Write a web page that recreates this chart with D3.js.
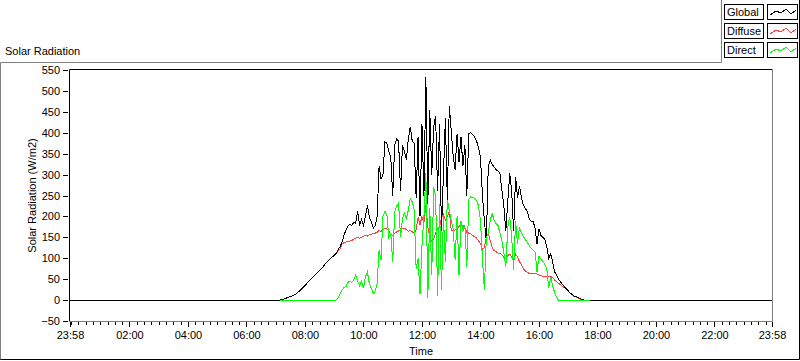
<!DOCTYPE html>
<html><head><meta charset="utf-8">
<script src="https://cdn.jsdelivr.net/npm/d3@7"></script>
<style>
html,body{margin:0;padding:0;background:#fff;}
svg{display:block;font-family:"Liberation Sans",Arial,sans-serif;font-size:11px;}
</style></head><body>
<svg id="chart" width="800" height="361"></svg>
<script>
// ---------- data ----------
const seriesNames = ["Global", "Diffuse", "Direct"];
const seriesColors = ["#000000", "#ff4040", "#00ff00"];
const chartTitle = "Solar Radiation";
const yTitle = "Solar Radiation (W/m2)";
const xTitle = "Time";
const axisStartLabel = "23:58"; // previous day
const axisEndLabel = "23:58";
const dayStart = "07:08";   // first sample of the daylight series
const stepMinutes = 4;      // sampling step of the series
const nightValue = 0;

const globalValues = [
  0,1,2,4,6,8,9,11,13,17, 21,25,30,35,40,45,50,54,59,64,
  68,73,78,84,90,95,99,103,107,112, 120,128,138,155,167,176,182,178,186,
  183,213,180,192,178,200,226,198,188,172,178,
  200,320,290,300,378,375,355,340,250,370,
  385,380,260,370,355,335,385,414,380,375,
  245,390,200,420,250,534,230,454,300,414,
  440,260,420,165,300,435,240,464,406,343,
  311,398,330,390,320,370,250,398,400,395,
  390,380,365,340,250,190,140,320,335,325,
  318,312,308,303,262,225,165,235,303,260,
  165,295,245,272,245,227,219,212,195,188,
  188,172,135,170,155,150,145,128,100,110,
  92,68,60,50,44,38,32,27,22,17,
  13,10,8,6,4,2,0,0,0,0
];
const diffuseValues = [
  0,1,2,4,6,8,9,11,13,17, 21,25,30,35,40,45,50,54,59,64,
  68,73,78,84,90,95,99,103,107,112, 117,123,
  134,137,139,140,141,142,146,148,150,148,150,152,155,153,156,157,159,160,
  162,167,164,168,171,170,165,158,155,160,
  163,165,168,170,172,168,165,166,163,160,
  168,198,180,200,185,228,175,150,140,145,
  160,170,175,
  195,205,190,200,212,168,165,168,172,176,180,179,172,162,160,158,154,152,148,142,
  135,120,125,150,158,143,125,118,116,112,112,108,102,100,106,110,102,98,
  110,103,92,85,74,70,66,64,63,64,64,62,60,58,57,56,56,57,56,54,
  48,44,40,37,33,30,26,21,16,12,9,7,5,3,1,0,0,0,0
];
const directValues = [
  0,0,0,0,0,0,0,0,0,0, 0,0,0,0,0,0,0,0,0,0, 0,0,0,0,0,0,0,0,0,0,
  5,15,24,30,32,42,45,42,48,60,45,35,45,28,55,68,40,28,16,22,
  40,120,95,200,212,205,150,160,90,210,225,232,150,195,207,195,215,243,235,215,
  75,100,15,130,200,303,5,220,60,270,250,10,230,
  25,200,90,240,215,190,170,95,200,60,190,165,180,80,240,247,245,243,238,225,
  190,100,25,150,160,191,207,190,183,178,160,143,112,80,175,199,150,72,
  190,135,175,160,152,145,138,130,124,120,115,68,105,98,92,85,75,30,55,35,18,6,
  0,0,0,0,0,0,0,0,0,0,0,0,0,0,0,0,0
];
const yTicks = [-50,0,50,100,150,200,250,300,350,400,450,500,550];
const yDomain = [-50, 550];
const xTickLabels = ["23:58","02:00","04:00","06:00","08:00","10:00","12:00","14:00","16:00","18:00","20:00","22:00","23:58"];
const minorStepMinutes = 15;

// ---------- helpers ----------
const toMin = s => { const [h, m] = s.split(":").map(Number); return h * 60 + m; };
const axisStart = toMin(axisStartLabel) - 1440;
const axisEnd = toMin(axisEndLabel);
const t0 = toMin(dayStart);
const majorMinutes = xTickLabels.map((s, i) => i === 0 ? toMin(s) - 1440 : toMin(s));

const svg = d3.select("#chart");
const W = 800, H = 361;
const plot = {left: 70, right: 772, top: 70, bottom: 321};

const x = d3.scaleLinear().domain([axisStart, axisEnd]).range([plot.left, plot.right]);
const y = d3.scaleLinear().domain(yDomain).range([plot.bottom, plot.top]);

// ---------- panel ----------
svg.append("rect").attr("width", W).attr("height", H).attr("fill", "#fff");
svg.append("path").attr("d", "M0.5,360 V62.5 H721.5 V0").attr("fill", "none").attr("stroke", "#808080");
svg.append("path").attr("d", "M0.5,359.5 H799.5 V0").attr("fill", "none").attr("stroke", "#000");

svg.append("text").attr("x", 5).attr("y", 55).text(chartTitle).attr("fill", "#000");

// ---------- series ----------
const daySeries = vals => vals.map((v, i) => [t0 + i * stepMinutes, v]);
const gPts = [[axisStart, nightValue]].concat(daySeries(globalValues), [[axisEnd, nightValue]]);
const dPts = daySeries(diffuseValues);
const rPts = daySeries(directValues);

const line = d3.line().x(d => x(d[0])).y(d => y(d[1]));
const clip = svg.append("clipPath").attr("id", "pc").append("rect")
  .attr("x", plot.left).attr("y", plot.top).attr("width", plot.right - plot.left).attr("height", plot.bottom - plot.top);
const gPlot = svg.append("g").attr("clip-path", "url(#pc)");
const drawOrder = [[dPts, 1], [gPts, 0], [rPts, 2]];
drawOrder.forEach(([pts, k]) => {
  gPlot.append("path").datum(pts).attr("d", line)
    .attr("fill", "none").attr("stroke", seriesColors[k]).attr("stroke-width", 1)
    .attr("shape-rendering", "crispEdges");
});

// ---------- frame ----------
svg.append("path").attr("d", `M${plot.left - 0.5},${plot.bottom + 0.5} V${plot.top - 0.5} H${plot.right + 0.5}`)
  .attr("fill", "none").attr("stroke", "#000");
svg.append("path").attr("d", `M${plot.left - 0.5},${plot.bottom + 0.5} H${plot.right + 0.5} V${plot.top - 0.5}`)
  .attr("fill", "none").attr("stroke", "#808080");

// ---------- y axis ----------
const yAxis = d3.axisLeft(y).tickValues(yTicks).tickSize(5).tickPadding(3).tickFormat(d3.format("d"));
const gy = svg.append("g").attr("transform", `translate(${plot.left - 2},0)`).call(yAxis);
gy.select(".domain").remove();
gy.selectAll(".tick line").attr("stroke", "#000").attr("shape-rendering", "crispEdges");
gy.selectAll(".tick text").attr("fill", "#000").style("font-family", "Liberation Sans, Arial, sans-serif").style("font-size", "11px");

svg.append("text")
  .attr("transform", `translate(36,${(plot.top + plot.bottom) / 2}) rotate(-90)`)
  .attr("text-anchor", "middle").text(yTitle);

// ---------- x axis ----------
const minorMinutes = d3.range(0, axisEnd, minorStepMinutes).filter(m => !majorMinutes.includes(m));
const gxMinor = svg.append("g").attr("transform", `translate(0,${plot.bottom + 1})`)
  .call(d3.axisBottom(x).tickValues(minorMinutes).tickSize(3).tickFormat(""));
gxMinor.select(".domain").remove();
gxMinor.selectAll(".tick line").attr("stroke", "#000").attr("shape-rendering", "crispEdges");

const gx = svg.append("g").attr("transform", `translate(0,${plot.bottom + 1})`)
  .call(d3.axisBottom(x).tickValues(majorMinutes).tickSize(5).tickPadding(4)
    .tickFormat((d, i) => xTickLabels[i]));
gx.select(".domain").remove();
gx.selectAll(".tick line").attr("stroke", "#000").attr("shape-rendering", "crispEdges");
gx.selectAll(".tick text").attr("fill", "#000").style("font-family", "Liberation Sans, Arial, sans-serif").style("font-size", "11px");

svg.append("text").attr("x", (plot.left + plot.right) / 2).attr("y", 355)
  .attr("text-anchor", "middle").text(xTitle);

// ---------- legend ----------
const zig = [[2, 10], [8, 6], [13, 8], [18, 4], [23, 9], [28, 5]];
const lg = svg.append("g").selectAll("g").data(seriesNames).join("g")
  .attr("transform", (d, i) => `translate(724,${4 + i * 19})`);
lg.append("rect").attr("x", 0.5).attr("y", 0.5).attr("width", 39).attr("height", 15)
  .attr("fill", "#fff").attr("stroke", "#000");
lg.append("text").attr("x", 3).attr("y", 12).text(d => d);
lg.append("rect").attr("x", 43.5).attr("y", 0.5).attr("width", 30).attr("height", 15)
  .attr("fill", "#fff").attr("stroke", "#000");
lg.append("path").attr("d", d3.line()(zig.map(p => [44 + p[0], p[1] + 1])))
  .attr("fill", "none").attr("stroke", (d, i) => seriesColors[i]).attr("shape-rendering", "crispEdges");
</script>
</body></html>
